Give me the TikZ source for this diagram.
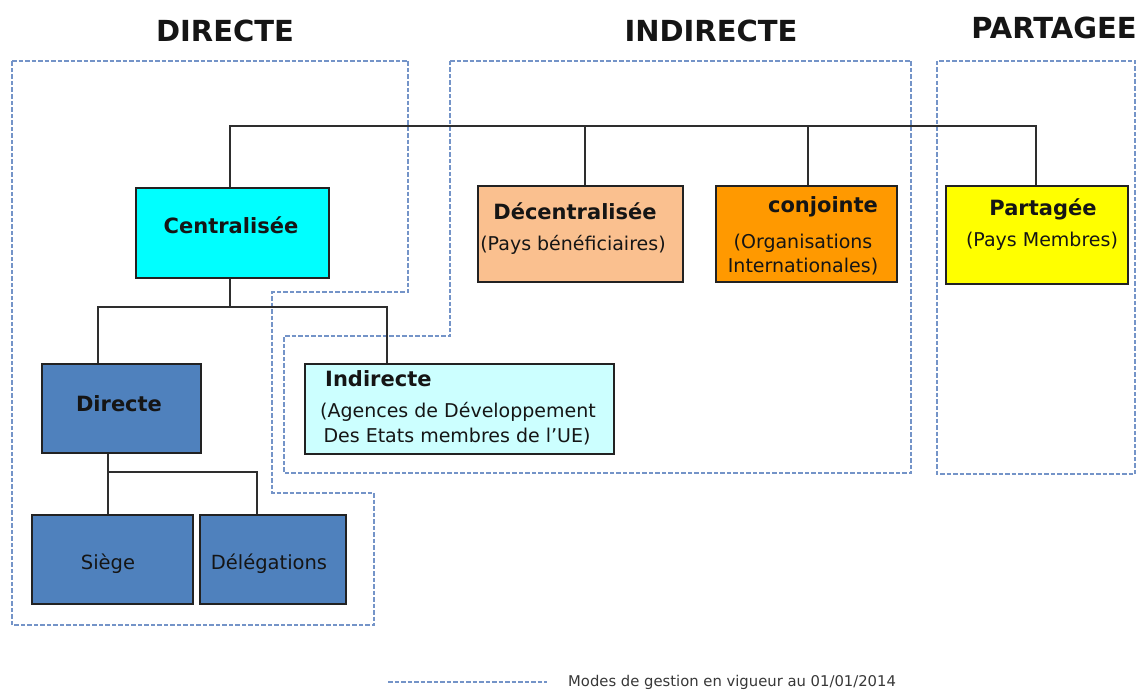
\documentclass[tikz,border=0pt]{standalone}
\usepackage{fontspec}
\setmainfont{DejaVu Sans}
\usetikzlibrary{calc}
\definecolor{dashc}{HTML}{7494C8}
\definecolor{linec}{HTML}{2E2E2E}
\definecolor{boxline}{HTML}{222222}
\definecolor{fdir}{HTML}{4F81BD}
\definecolor{fcent}{HTML}{00FFFF}
\definecolor{findir}{HTML}{CCFFFF}
\definecolor{fdecent}{HTML}{FAC08F}
\definecolor{fconj}{HTML}{FF9900}
\definecolor{fpart}{HTML}{FFFF00}
\definecolor{txt}{HTML}{151515}
\begin{document}
\begin{tikzpicture}[x=1pt,y=-1pt,
  region/.style={draw=dashc, line width=1.6pt, dash pattern=on 4.5pt off 2pt},
  conn/.style={draw=linec, line width=2.2pt},
  box/.style={draw=boxline, line width=2.2pt, rectangle, inner sep=0pt, anchor=north west},
  ttl/.style={font=\fontsize{21}{24}\selectfont\bfseries, text=txt, inner sep=0pt},
  sub/.style={font=\fontsize{19}{24}\selectfont, text=txt, inner sep=0pt},
  lbl/.style={font=\fontsize{19.5}{22}\selectfont, text=txt, inner sep=0pt},
  head/.style={font=\fontsize{29}{32}\selectfont\bfseries, text=txt, inner sep=0pt}]
\useasboundingbox (0,0) rectangle (1143,693);
\fill[white] (0,0) rectangle (1143,693);

% headings
\node[head] (hdir) at (225,31) {DIRECTE};
\node[head] (hind) at (711,31) {INDIRECTE};
\node[head] (hpar) at (1054,28) {PARTAGEE};

% dashed regions
\draw[region] (12,61) -- (408,61) -- (408,292) -- (272,292) -- (272,493) -- (374,493) -- (374,625) -- (12,625) -- cycle;
\draw[region] (450,61) -- (911,61) -- (911,473) -- (284,473) -- (284,336) -- (450,336) -- cycle;
\draw[region] (937,61) rectangle (1135,474);

% boxes
\node[box, fill=fcent, minimum width=193pt, minimum height=90pt] (cent) at (135,187) {};
\node[box, fill=fdecent, minimum width=205pt, minimum height=96pt] (decent) at (477,185) {};
\node[box, fill=fconj, minimum width=181pt, minimum height=96pt] (conj) at (715,185) {};
\node[box, fill=fpart, minimum width=182pt, minimum height=98pt] (part) at (945,185) {};
\node[box, fill=fdir, minimum width=159pt, minimum height=89pt] (dir) at (41,363) {};
\node[box, fill=findir, minimum width=309pt, minimum height=90pt] (ind) at (304,363) {};
\node[box, fill=fdir, minimum width=161pt, minimum height=89pt] (siege) at (31,514) {};
\node[box, fill=fdir, minimum width=146pt, minimum height=89pt] (deleg) at (199,514) {};

% connector coordinates
\coordinate (bus) at (0,126);
\coordinate (bus2) at (0,307);
\coordinate (bus3) at (0,472);
\coordinate (centTop) at ([xshift=-2.5pt]cent.north);
\coordinate (decTop) at ([xshift=4.5pt]decent.north);
\coordinate (conjTop) at ([xshift=1.5pt]conj.north);
\coordinate (partTop) at ([xshift=-1pt]part.north);
\coordinate (dirTop) at ([xshift=57pt]dir.north west);
\coordinate (indTop) at ([xshift=83pt]ind.north west);
\coordinate (centBot) at ([xshift=-2.5pt]cent.south);
\coordinate (dirBot) at ([xshift=67pt]dir.south west);
\coordinate (siegeTop) at ([xshift=77pt]siege.north west);
\coordinate (delegTop) at ([xshift=58pt]deleg.north west);

% connectors
\draw[conn] (centTop) |- (bus -| partTop) -- (partTop);
\draw[conn] (decTop) -- (decTop |- bus);
\draw[conn] (conjTop) -- (conjTop |- bus);
\draw[conn] (centBot) -- (centBot |- bus2);
\draw[conn] (dirTop) |- (bus2 -| indTop) -- (indTop);
\draw[conn] (dirBot) -- (siegeTop);
\draw[conn] (siegeTop |- bus3) -| (delegTop);

% box texts
\node[ttl] (centT) at (231,225) {Centralisée};
\node[ttl] (decentT) at (575,211) {Décentralisée};
\node[sub] (decentS) at (573,245) {(Pays bénéficiaires)};
\node[ttl] (conjT) at (823,207) {conjointe};
\node[sub] (conjS1) at (803,243) {(Organisations};
\node[sub] (conjS2) at (803,267) {Internationales)};
\node[ttl] (partT) at (1043,209) {Partagée};
\node[sub] (partS) at (1042,241) {(Pays Membres)};
\node[ttl, anchor=west] (indT) at (325,379) {Indirecte};
\node[sub] (indS1) at (458,412) {(Agences de Développement};
\node[sub] (indS2) at (457,437) {Des Etats membres de l'UE)};
\node[ttl] (dirT) at (119,404) {Directe};
\node[lbl] (siegeT) at (108,564) {Siège};
\node[lbl] (delegT) at (269,564) {Délégations};

% legend
\coordinate (legA) at (388,682);
\coordinate (legB) at (547,682);
\draw[region, line width=1.1pt] (legA) -- (legB);
\node[font=\fontsize{14.8}{18}\selectfont, text=txt!85, anchor=west, inner sep=0pt] (legT) at (568,682) {Modes de gestion en vigueur au 01/01/2014};
\end{tikzpicture}
\end{document}
